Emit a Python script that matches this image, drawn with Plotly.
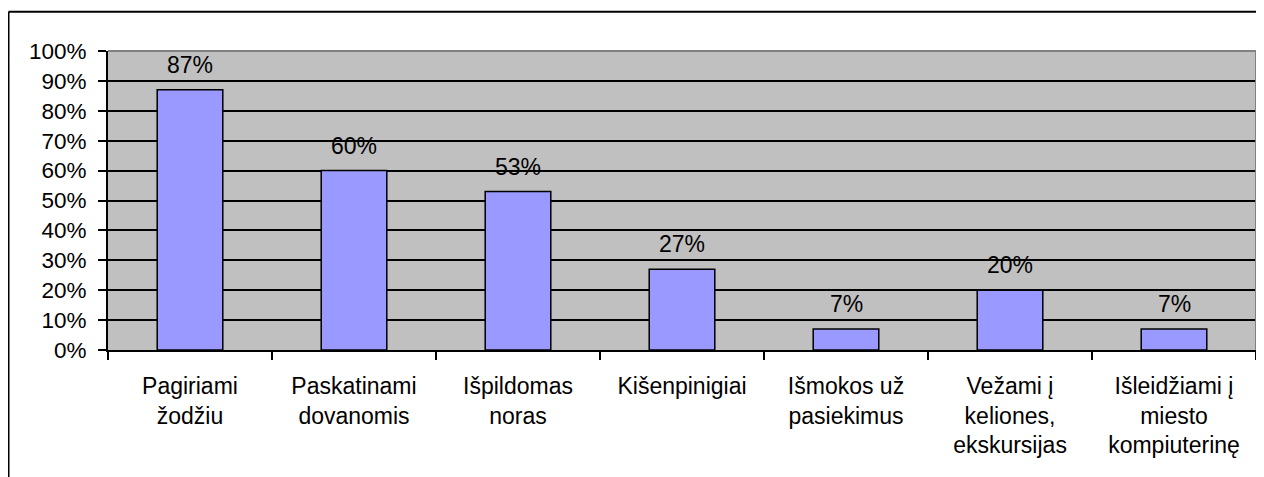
import plotly.graph_objects as go

categories = ["Pagiriami<br>žodžiu", "Paskatinami<br>dovanomis", "Išpildomas<br>noras",
              "Kišenpinigiai", "Išmokos už<br>pasiekimus", "Vežami į<br>keliones,<br>ekskursijas",
              "Išleidžiami į<br>miesto<br>kompiuterinę"]
values = [87, 60, 53, 27, 7, 20, 7]
value_labels = ["87%", "60%", "53%", "27%", "7%", "20%", "7%"]
y_ticks = [0, 10, 20, 30, 40, 50, 60, 70, 80, 90, 100]
y_tick_labels = [f"{v}%" for v in y_ticks]

# page body has an 8px margin; figure is sized/positioned to compensate
W, H = 1256, 469
L, R, T, B = 100, 8, 43, 127
pw = W - L - R
ph = H - T - B

FAMILY = "Liberation Sans, Arial, sans-serif"
FONT = dict(family=FAMILY, size=23, color="black")

fig = go.Figure()
fig.add_trace(go.Bar(
    x=categories, y=values, width=0.4,
    marker=dict(color="#9999FF", line=dict(color="black", width=1.5)),
    hoverinfo="skip",
))

for c, v, t in zip(categories, values, value_labels):
    fig.add_annotation(x=c, y=v, text=t, showarrow=False, yanchor="middle",
                       yshift=25, font=FONT)

def px(x):
    return (x - L) / pw

def py(y):
    return (H - B - y) / ph

shapes = [
    # gray plot-area border (top & right)
    dict(type="line", xref="paper", yref="paper", x0=0, x1=1, y0=1, y1=1,
         line=dict(color="#808080", width=2), layer="above"),
    dict(type="line", xref="paper", yref="paper", x0=1, x1=1, y0=0, y1=1,
         line=dict(color="#808080", width=2), layer="above"),
    # outer chart border (left & top visible)
    dict(type="line", xref="paper", yref="paper", x0=px(0.5), x1=px(1270), y0=py(3.8), y1=py(3.8),
         line=dict(color="black", width=2)),
    dict(type="line", xref="paper", yref="paper", x0=px(0.5), x1=px(0.5), y0=py(3.8), y1=py(490),
         line=dict(color="black", width=2)),
]

fig.update_layout(
    width=W, height=H,
    margin=dict(l=L, r=R, t=T, b=B, autoexpand=False),
    paper_bgcolor="white",
    plot_bgcolor="#C0C0C0",
    showlegend=False,
    font=FONT,
    shapes=shapes,
)
fig.update_yaxes(
    range=[0, 100], tickvals=y_ticks, ticktext=y_tick_labels,
    tickfont=dict(family=FAMILY, size=22.5, color="black"),
    showgrid=True, gridcolor="black", gridwidth=1.5,
    showline=True, linecolor="black", linewidth=2,
    ticks="outside", ticklen=8, tickwidth=1.5, tickcolor="black",
    ticklabelstandoff=7, zeroline=False, fixedrange=True,
)
fig.update_xaxes(
    type="category", tickson="boundaries",
    tickfont=dict(family=FAMILY, size=23, color="black"),
    showline=True, linecolor="black", linewidth=2,
    ticks="outside", ticklen=8, tickwidth=1.5, tickcolor="black",
    showgrid=False, ticklabelstandoff=14, fixedrange=True,
)

fig.write_html("out.html")
